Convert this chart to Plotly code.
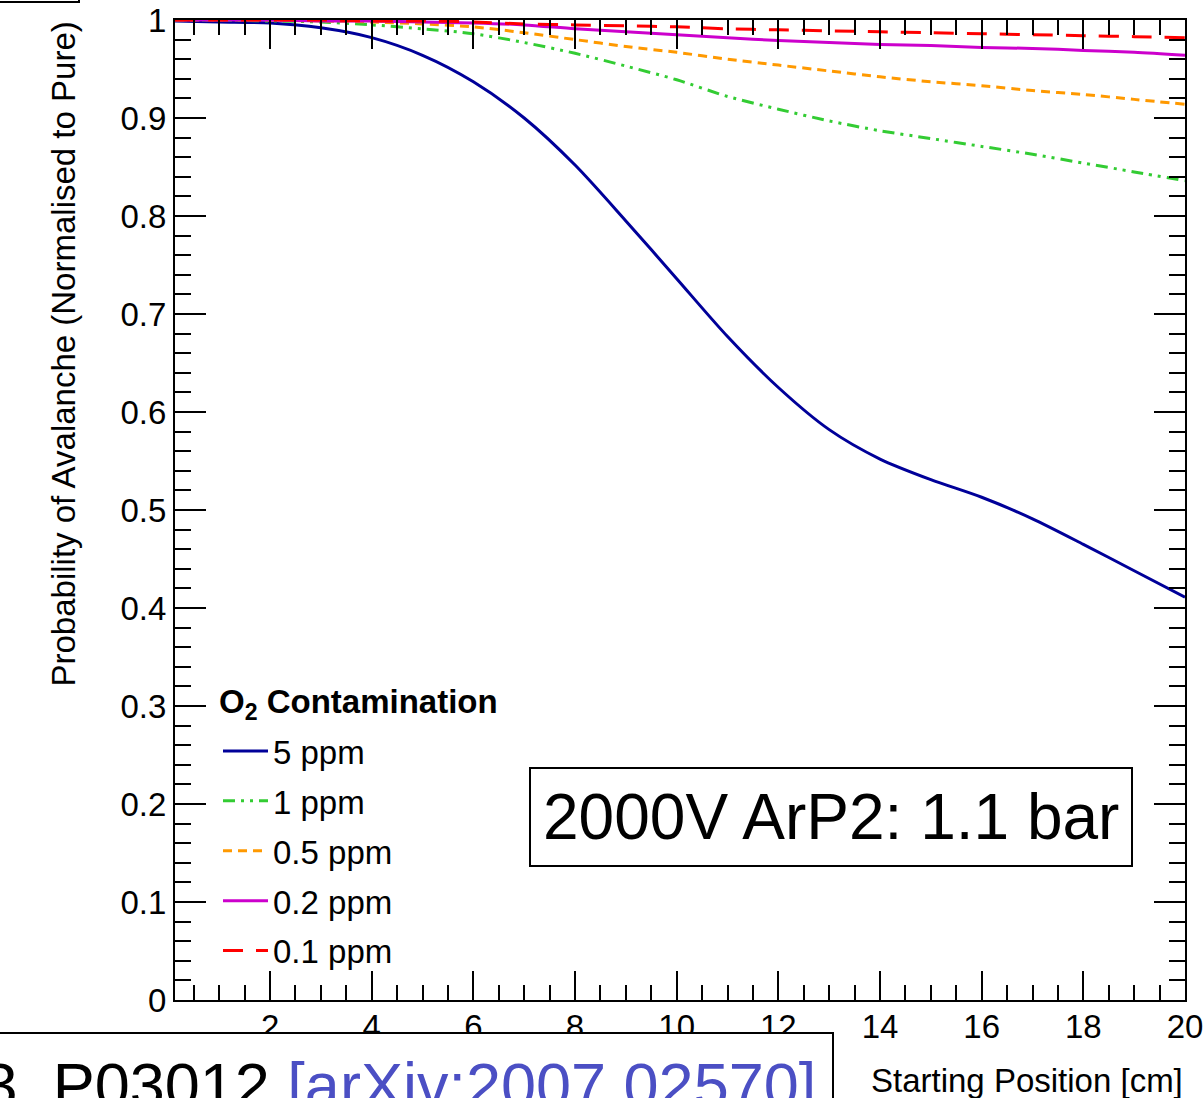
import plotly.graph_objects as go

# ---------------- data ----------------
x_pos = [0.13, 1, 2, 3, 4, 5, 6, 7, 8, 9, 10, 11, 12, 13, 14, 15, 16, 17, 18, 19, 20]

p_5ppm = [0.999, 0.998, 0.997, 0.992, 0.982, 0.964, 0.937, 0.900, 0.852, 0.795, 0.736,
          0.677, 0.625, 0.582, 0.552, 0.531, 0.513, 0.491, 0.465, 0.438, 0.411]
p_1ppm = [1.000, 1.000, 0.999, 0.998, 0.995, 0.991, 0.986, 0.977, 0.966, 0.953, 0.939,
          0.922, 0.909, 0.897, 0.887, 0.879, 0.871, 0.863, 0.854, 0.845, 0.836]
p_05ppm = [1.000, 1.000, 1.000, 0.999, 0.998, 0.996, 0.993, 0.987, 0.980, 0.973, 0.967,
           0.960, 0.954, 0.948, 0.942, 0.937, 0.933, 0.928, 0.924, 0.919, 0.914]
p_02ppm = [1.000, 1.000, 1.000, 0.999, 0.999, 0.998, 0.997, 0.995, 0.991, 0.988, 0.985,
           0.982, 0.979, 0.977, 0.975, 0.974, 0.972, 0.971, 0.969, 0.967, 0.964]
p_01ppm = [1.000, 1.000, 1.000, 1.000, 0.999, 0.999, 0.998, 0.996, 0.995, 0.994, 0.993,
           0.991, 0.990, 0.989, 0.988, 0.987, 0.986, 0.985, 0.984, 0.983, 0.982]

series_names = ["5 ppm", "1 ppm", "0.5 ppm", "0.2 ppm", "0.1 ppm"]
series_vals = [p_5ppm, p_1ppm, p_05ppm, p_02ppm, p_01ppm]
series_colors = ["#000099", "#33cc33", "#ff9900", "#cc00cc", "#ff0000"]
series_dash = ["solid", "12px,6px,3px,6px,3px,6px", "9px,6px", "solid", "20px,13px"]

x_ticks = [2, 4, 6, 8, 10, 12, 14, 16, 18, 20]
y_ticks = [0, 0.1, 0.2, 0.3, 0.4, 0.5, 0.6, 0.7, 0.8, 0.9, 1]

FONT = "Liberation Sans, Arial, Helvetica, sans-serif"
W, H = 1204, 1098
L, R, T, B = 175, 1185, 20, 1000


def px_x(px):
    return (px - L) / (R - L)


def px_y(py):
    return (B - py) / (B - T)


fig = go.Figure()
for i, (name, vals, col, dash) in enumerate(zip(series_names, series_vals, series_colors, series_dash)):
    fig.add_trace(go.Scatter(
        x=x_pos, y=vals, mode="lines", name=name,
        line=dict(color=col, width=3, dash=dash, shape="spline", smoothing=0.8),
        legendgroup=f"g{i}",
    ))

axis_common = dict(
    showline=True, linecolor="black", linewidth=2, mirror="ticks",
    ticks="inside", tickcolor="black", tickwidth=2,
    showgrid=False, zeroline=False, automargin=False,
    tickfont=dict(family=FONT, size=33, color="black"),
)

fig.update_xaxes(
    range=[0.13, 20], tickvals=x_ticks, ticklen=29,
    minor=dict(dtick=0.5, tick0=0, ticks="inside", ticklen=15, tickcolor="black", tickwidth=2, showgrid=False),
    ticklabelstandoff=-4,
    **axis_common,
)
fig.update_yaxes(
    range=[0, 1], tickvals=y_ticks, ticklen=31,
    minor=dict(dtick=0.02, tick0=0, ticks="inside", ticklen=16, tickcolor="black", tickwidth=2, showgrid=False),
    ticklabelstandoff=0,
    **axis_common,
)

annotations = [
    dict(text="Probability of Avalanche (Normalised to Pure)", textangle=-90,
         xref="paper", yref="paper", x=px_x(63), y=px_y(20), xanchor="center", yanchor="top",
         showarrow=False, font=dict(family=FONT, size=33, color="black")),
    dict(text="Starting Position [cm]",
         xref="paper", yref="paper", x=px_x(1185), y=px_y(1080), xanchor="right", yanchor="middle",
         showarrow=False, font=dict(family=FONT, size=33, color="black")),
    dict(text="<b>O<sub>2</sub> Contamination</b>",
         xref="paper", yref="paper", x=px_x(217), y=px_y(704), xanchor="left", yanchor="middle",
         showarrow=False, font=dict(family=FONT, size=33, color="black")),
    dict(text="2000V ArP2: 1.1 bar",
         xref="paper", yref="paper", x=px_x(831), y=px_y(817.5), xanchor="center", yanchor="middle",
         showarrow=False, font=dict(family=FONT, size=64, color="black"),
         bgcolor="white", bordercolor="black", borderwidth=2, borderpad=12),
    dict(text="JINST 16 (2021) 03, P03012 <span style='color:#4b4fc4'>[arXiv:2007.02570]</span>",
         xref="paper", yref="paper", x=px_x(834), y=px_y(1032), xanchor="right", yanchor="top",
         showarrow=False, font=dict(family=FONT, size=63, color="black"),
         bgcolor="white", bordercolor="black", borderwidth=2, borderpad=16),
]

shapes = [
    dict(type="rect", xref="paper", yref="paper",
         x0=px_x(-50), x1=px_x(79), y0=px_y(2), y1=px_y(-50),
         line=dict(color="black", width=2), fillcolor="white"),
]

fig.update_layout(
    width=W, height=H,
    margin=dict(l=L, r=W - R, t=T, b=H - B, pad=0, autoexpand=False),
    paper_bgcolor="white", plot_bgcolor="white",
    font=dict(family=FONT, size=33, color="black"),
    annotations=annotations, shapes=shapes,
    showlegend=True,
    legend=dict(
        x=px_x(218), y=px_y(723), xanchor="left", yanchor="top",
        bgcolor="rgba(0,0,0,0)", borderwidth=0,
        font=dict(family=FONT, size=33, color="black"),
        traceorder="grouped", tracegroupgap=4, itemwidth=45,
    ),
)

fig.write_html("out.html", config={"displayModeBar": False},
               post_script="document.body.style.margin='0';")
